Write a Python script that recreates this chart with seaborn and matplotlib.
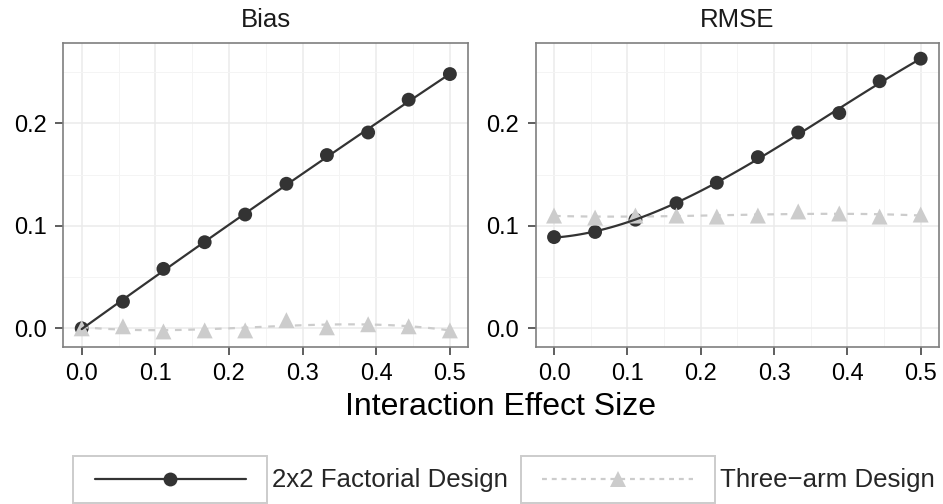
import numpy as np
import pandas as pd
import matplotlib
matplotlib.use("Agg")
import matplotlib.pyplot as plt
import seaborn as sns
from matplotlib.lines import Line2D
from matplotlib.patches import Rectangle
from matplotlib.legend_handler import HandlerBase
from matplotlib.ticker import MultipleLocator, FormatStrFormatter

# ---- data ----
effect_size = [0.0, 0.056, 0.111, 0.167, 0.222, 0.278, 0.333, 0.389, 0.444, 0.5]
bias_factorial = [0.000, 0.026, 0.058, 0.084, 0.111, 0.141, 0.169, 0.191, 0.223, 0.248]
bias_threearm = [0.000, 0.002, -0.003, -0.002, -0.002, 0.008, 0.001, 0.004, 0.002, -0.002]
rmse_factorial = [0.089, 0.094, 0.106, 0.122, 0.142, 0.167, 0.191, 0.210, 0.241, 0.263]
rmse_threearm = [0.110, 0.108, 0.110, 0.110, 0.109, 0.110, 0.114, 0.112, 0.109, 0.111]
panel_titles = ["Bias", "RMSE"]
series_labels = ["2x2 Factorial Design", "Three\u2212arm Design"]
x_ticks = [0.0, 0.1, 0.2, 0.3, 0.4, 0.5]
y_ticks = [0.0, 0.1, 0.2]

sns.set_theme(style="white")
plt.rcParams["font.family"] = ["Liberation Sans", "DejaVu Sans"]

W, H = 943, 504
fig = plt.figure(figsize=(W / 100, H / 100), dpi=100)

def px_axes(left, right, top, bottom):
    return fig.add_axes([left / W, (H - bottom) / H, (right - left) / W, (bottom - top) / H])

ax1 = px_axes(63.3, 468.3, 43.3, 346.7)
ax2 = px_axes(535.7, 939.0, 43.3, 346.7)

DARK = "#333333"
LIGHT = "#cccccc"
MS = 10
TRI = 11.5
LW = 1.6
DASH = (0, (3, 3))

panels = [(ax1, bias_factorial, bias_threearm), (ax2, rmse_factorial, rmse_threearm)]
for (ax, fac, thr), title in zip(panels, panel_titles):
    sns.scatterplot(x=effect_size, y=fac, ax=ax, color=DARK, marker="o",
                    s=MS ** 2, edgecolor="none", linewidth=0, zorder=3)
    sns.scatterplot(x=effect_size, y=thr, ax=ax, color=LIGHT, marker="^",
                    s=TRI ** 2, edgecolor="none", linewidth=0, zorder=4)
    sns.regplot(x=effect_size, y=fac, ax=ax, order=3, ci=None, scatter=False,
                truncate=True, line_kws=dict(color=DARK, lw=LW, zorder=6))
    sns.regplot(x=effect_size, y=thr, ax=ax, order=3, ci=None, scatter=False,
                truncate=True, line_kws=dict(color=LIGHT, lw=LW, ls=DASH, zorder=5))
    ax.set_xlim(-0.025, 0.525)
    ax.set_ylim(-0.0179, 0.278)
    ax.set_xticks(x_ticks)
    ax.set_yticks(y_ticks)
    ax.xaxis.set_major_formatter(FormatStrFormatter("%.1f"))
    ax.yaxis.set_major_formatter(FormatStrFormatter("%.1f"))
    ax.xaxis.set_minor_locator(MultipleLocator(0.05))
    ax.yaxis.set_minor_locator(MultipleLocator(0.05))
    ax.grid(which="major", color="#ebebeb", lw=1.1)
    ax.grid(which="minor", color="#f4f4f4", lw=0.7)
    ax.set_axisbelow(True)
    ax.tick_params(which="major", bottom=True, left=True, length=6, width=1.1,
                   color=DARK, pad=6, labelsize=17, labelcolor="black")
    ax.tick_params(which="minor", length=0)
    for sp in ax.spines.values():
        sp.set_color("#7f7f7f")
        sp.set_linewidth(1.2)
    ax.set_xlabel("")
    ax.set_ylabel("")
    ax.set_title(title, fontsize=18.5, pad=12, color="#1a1a1a")

fig.text(501 / W, (H - 415) / H, "Interaction Effect Size", fontsize=23,
         ha="center", va="baseline", color="black")


class BoxHandler(HandlerBase):
    def create_artists(self, legend, orig_handle, xdescent, ydescent, width, height,
                       fontsize, trans):
        x0, y0 = -xdescent, -ydescent
        rect = Rectangle((x0, y0), width, height, facecolor="white",
                         edgecolor="#cccccc", lw=1.4, transform=trans)
        yc = y0 + height / 2
        inset = width * 0.11
        line = Line2D([x0 + inset, x0 + width - inset], [yc, yc],
                      color=orig_handle.get_color(), ls=orig_handle.get_linestyle(),
                      lw=orig_handle.get_linewidth(), transform=trans)
        if orig_handle.get_linestyle() not in ("-", "solid"):
            line.set_dashes([2.2, 2.2])
        mk = Line2D([x0 + width / 2], [yc], ls="", marker=orig_handle.get_marker(),
                    ms=orig_handle.get_markersize(), color=orig_handle.get_color(),
                    markeredgewidth=0, transform=trans)
        return [rect, line, mk]


handles = [
    Line2D([], [], color=DARK, lw=LW, ls="-", marker="o", ms=MS),
    Line2D([], [], color=LIGHT, lw=LW, ls="--", marker="^", ms=TRI),
]
fs = 18.6
fig.legend(handles, series_labels, loc="lower left",
           bbox_to_anchor=(73.3 / W, 1.3 / H), ncol=2, frameon=False,
           fontsize=fs, handlelength=7.5, handleheight=2.43, handletextpad=0.2,
           columnspacing=0.5, borderpad=0, borderaxespad=0,
           handler_map={Line2D: BoxHandler()})

fig.savefig("out.png", dpi=100)
